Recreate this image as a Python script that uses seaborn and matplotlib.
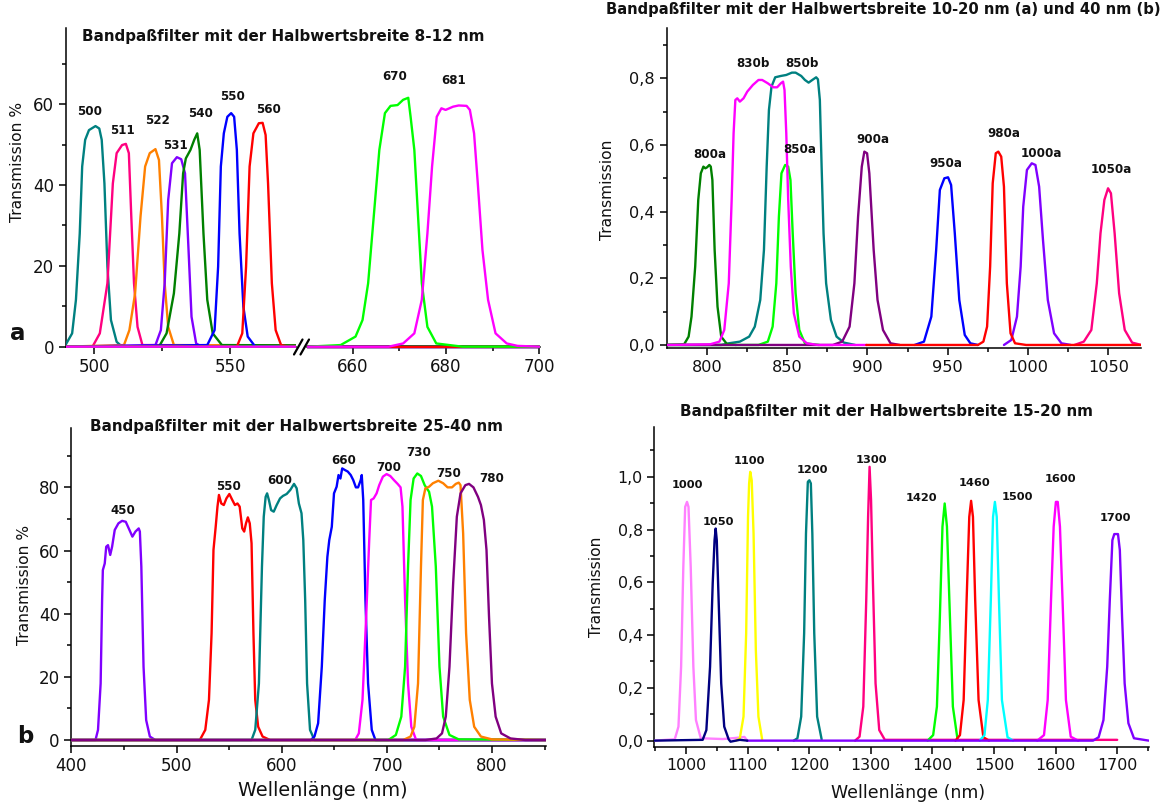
import matplotlib
matplotlib.use("Agg")
import matplotlib.pyplot as plt
from matplotlib.lines import Line2D
import seaborn as sns

sns.set_style("ticks")
plt.rcParams["font.family"] = ["DejaVu Sans"]

# ---------------------------------------------------------------- colours
TEAL = "#008080"
PINK = "#FF0080"
ORANGE = "#FF8000"
VIOLET = "#8000FF"
GREEN = "#008000"
BLUE = "#0000FF"
RED = "#FF0000"
LIME = "#00FF00"
MAGENTA = "#FF00FF"
PURPLE = "#800080"
LILAC = "#FF80FF"
NAVY = "#000080"
YELLOW = "#FFFF00"
CYAN = "#00FFFF"

# ---------------------------------------------------------------- panel a: FWHM 8-12 nm (Transmission %)
A500_WL = [489.0, 491.8, 493.2, 494.6, 495.5, 496.6, 498.0, 500.4, 501.8, 502.7, 503.7, 504.8, 506.1, 508.2, 510.2, 700.0]
A500_T = [0.0, 3.3, 11.6, 28.0, 44.6, 51.2, 53.6, 54.6, 54.0, 51.2, 40.4, 19.8, 6.6, 1.2, 0.0, 0.0]
A511_WL = [489.0, 499.3, 502.0, 504.8, 506.8, 508.2, 510.2, 511.6, 512.7, 513.6, 514.6, 515.9, 517.7, 700.0]
A511_T = [0.0, 0.0, 3.3, 15.7, 40.4, 47.9, 49.9, 50.2, 47.9, 32.2, 15.7, 4.9, 0.4, 0.0]
A522_WL = [489.0, 510.9, 512.9, 515.0, 517.0, 518.7, 520.4, 522.5, 523.8, 524.9, 525.9, 527.2, 529.3, 700.0]
A522_T = [0.0, 0.4, 4.1, 13.2, 32.2, 44.6, 47.9, 48.9, 46.2, 32.2, 15.7, 4.9, 0.4, 0.0]
A531_WL = [489.0, 522.5, 524.5, 525.9, 527.2, 528.6, 530.4, 532.0, 533.4, 534.7, 535.8, 537.5, 539.5, 700.0]
A531_T = [0.0, 0.4, 4.1, 15.7, 36.3, 45.4, 46.9, 46.4, 42.9, 23.9, 7.4, 0.8, 0.0, 0.0]
A540_WL = [489.0, 523.8, 526.6, 529.3, 531.3, 532.7, 533.7, 535.4, 536.8, 537.9, 538.8, 540.2, 541.6, 543.6, 547.0, 700.0]
A540_T = [0.0, 0.0, 3.3, 13.2, 28.0, 42.9, 46.6, 48.7, 51.2, 52.8, 48.7, 28.0, 11.6, 3.3, 0.4, 0.0]
A550_WL = [489.0, 541.6, 544.3, 545.6, 546.6, 547.7, 549.0, 550.4, 551.5, 552.5, 553.5, 554.9, 556.5, 559.3, 700.0]
A550_T = [0.0, 0.4, 4.1, 19.8, 44.6, 52.8, 56.9, 57.8, 56.9, 48.7, 28.0, 9.9, 2.5, 0.0, 0.0]
A560_WL = [489.0, 552.5, 554.5, 555.9, 557.2, 558.6, 560.6, 562.0, 563.1, 564.0, 565.4, 566.8, 568.8, 571.5, 700.0]
A560_T = [0.0, 0.0, 3.3, 19.8, 44.6, 52.8, 55.3, 55.4, 52.4, 40.4, 15.7, 4.1, 0.4, 0.0, 0.0]
A670_WL = [489.0, 650.3, 657.4, 660.6, 662.1, 663.3, 664.5, 665.7, 666.9, 668.1, 669.6, 670.8, 671.9, 672.4,
           673.2, 674.0, 674.8, 676.0, 677.9, 683.5, 700.0]
A670_T = [0.0, 0.0, 0.4, 2.5, 6.6, 15.7, 32.2, 48.7, 57.8, 59.6, 59.8, 61.1, 61.6, 56.9,
          48.7, 32.2, 15.7, 4.9, 0.8, 0.0, 0.0]
A681_WL = [489.0, 667.7, 670.8, 673.2, 674.8, 676.0, 677.0, 678.0, 679.0, 679.9, 681.5, 682.7, 684.4, 685.1,
           686.0, 686.8, 687.8, 689.0, 690.6, 693.0, 695.3, 700.0]
A681_T = [0.0, 0.0, 0.8, 3.3, 11.6, 28.0, 44.6, 56.9, 59.0, 58.6, 59.4, 59.7, 59.6, 58.6,
          52.8, 40.4, 23.9, 11.6, 3.3, 0.8, 0.2, 0.0]

A_NAMES = ["500", "511", "522", "531", "540", "550", "560", "670", "681"]
A_LABEL_X = [498.4, 510.5, 523.2, 529.7, 539.2, 550.8, 564.0, 668.9, 681.7]
A_LABEL_Y = [58.3, 53.5, 55.9, 49.7, 57.7, 61.9, 58.7, 66.8, 66.0]

# ---------------------------------------------------------------- panel b: FWHM 10-20 nm (a) / 40 nm (b)
B800A_WL = [775.0, 785.9, 788.7, 790.5, 792.8, 794.7, 796.3, 797.9, 799.1, 800.2, 801.6, 802.5, 803.5, 804.9,
            806.7, 809.0, 812.5, 818.3]
B800A_T = [0.0, 0.002, 0.025, 0.085, 0.235, 0.435, 0.515, 0.535, 0.53, 0.533, 0.54, 0.535, 0.495, 0.285,
           0.115, 0.025, 0.003, 0.0]
B830B_WL = [775.0, 802.1, 807.9, 810.9, 813.7, 815.5, 816.7, 817.8, 819.0, 820.6, 822.9, 825.2, 828.7, 832.2,
            834.5, 838.0, 841.4, 843.8, 846.1, 847.5, 848.4, 849.5, 850.7, 852.3, 854.2, 857.6, 862.3, 869.2, 899.5]
B830B_T = [0.0, 0.002, 0.01, 0.045, 0.185, 0.435, 0.635, 0.735, 0.74, 0.73, 0.74, 0.76, 0.78, 0.795,
           0.795, 0.785, 0.773, 0.773, 0.785, 0.79, 0.765, 0.635, 0.435, 0.235, 0.095, 0.025, 0.005, 0.0, 0.0]
B850B_WL = [775.0, 809.0, 813.7, 820.6, 826.4, 829.9, 833.3, 835.6, 837.3, 838.7, 840.3, 842.6, 846.1, 849.5,
            853.0, 855.3, 858.8, 861.1, 863.4, 865.7, 868.1, 869.2, 870.4, 871.5, 872.7, 874.3, 877.3, 880.8,
            885.4, 892.4]
B850B_T = [0.0, 0.0, 0.005, 0.01, 0.025, 0.055, 0.135, 0.285, 0.535, 0.705, 0.775, 0.803, 0.807, 0.81,
           0.817, 0.817, 0.807, 0.795, 0.787, 0.795, 0.803, 0.797, 0.735, 0.535, 0.335, 0.185, 0.075, 0.025,
           0.007, 0.0]
B850A_WL = [775.0, 832.2, 838.0, 841.0, 843.3, 844.9, 846.5, 848.8, 850.7, 852.1, 853.5, 855.3, 857.6, 861.1, 870.0]
B850A_T = [0.0, 0.0, 0.01, 0.055, 0.185, 0.385, 0.515, 0.54, 0.535, 0.495, 0.335, 0.155, 0.045, 0.005, 0.0]
B900A_WL = [775.0, 878.5, 884.3, 888.9, 891.9, 894.2, 896.5, 898.1, 899.8, 901.2, 903.9, 906.3, 909.7, 914.4, 920.1]
B900A_T = [0.0, 0.0, 0.01, 0.055, 0.185, 0.385, 0.535, 0.58, 0.575, 0.515, 0.285, 0.135, 0.045, 0.005, 0.0]
B950A_WL = [929.4, 935.2, 939.8, 942.8, 945.1, 947.9, 950.2, 952.1, 954.4, 957.2, 960.6, 964.1, 968.8]
B950A_T = [0.0, 0.01, 0.085, 0.285, 0.465, 0.5, 0.503, 0.48, 0.335, 0.135, 0.03, 0.005, 0.0]
B980A_WL = [899.3, 968.8, 972.2, 974.5, 976.4, 978.0, 979.9, 981.5, 983.3, 985.0, 986.8, 989.1, 991.9, 998.8, 1070.6]
B980A_T = [0.0, 0.0, 0.01, 0.055, 0.235, 0.485, 0.575, 0.58, 0.565, 0.475, 0.185, 0.035, 0.005, 0.0, 0.0]
B1000A_WL = [985.0, 989.6, 993.1, 995.4, 997.0, 999.3, 1002.3, 1004.6, 1006.9, 1009.3, 1012.3, 1016.2, 1020.8, 1026.6]
B1000A_T = [0.0, 0.015, 0.085, 0.235, 0.415, 0.525, 0.545, 0.54, 0.475, 0.315, 0.135, 0.035, 0.005, 0.0]
B1050A_WL = [1028.9, 1034.7, 1039.4, 1042.8, 1045.1, 1047.5, 1049.8, 1051.6, 1053.9, 1056.7, 1060.2, 1064.8, 1070.6]
B1050A_T = [0.0, 0.01, 0.045, 0.185, 0.335, 0.435, 0.47, 0.455, 0.335, 0.155, 0.045, 0.007, 0.0]

B_NAMES = ["800a", "830b", "850b", "850a", "900a", "950a", "980a", "1000a", "1050a"]
B_LABEL_X = [802.1, 828.7, 859.5, 858.1, 903.2, 949.1, 985.0, 1008.1, 1051.6]
B_LABEL_Y = [0.570, 0.843, 0.845, 0.587, 0.615, 0.545, 0.635, 0.575, 0.525]

# ---------------------------------------------------------------- panel c: FWHM 25-40 nm (Transmission %)
C450_WL = [400.0, 422.9, 425.3, 427.8, 429.2, 429.9, 431.7, 433.1, 434.8, 436.9, 438.7, 441.2, 444.7, 448.2,
           451.7, 455.2, 458.0, 460.9, 464.0, 465.1, 466.5, 468.6, 471.1, 474.6, 479.8, 851.0]
C450_T = [0.0, 0.0, 3.2, 17.9, 44.3, 53.8, 55.9, 61.2, 61.7, 58.6, 61.2, 66.5, 68.6, 69.4,
          69.1, 66.5, 64.4, 66.0, 67.0, 66.0, 54.9, 23.2, 6.3, 1.1, 0.0, 0.0]
C550_WL = [400.0, 522.1, 527.3, 530.8, 533.3, 535.1, 537.2, 538.9, 540.3, 542.5, 544.9, 547.4, 550.2, 553.0,
           555.5, 557.9, 560.0, 562.5, 564.3, 566.0, 567.8, 569.6, 571.3, 573.1, 574.8, 577.6, 581.8, 588.9, 851.0]
C550_T = [0.0, 0.0, 3.2, 12.7, 33.8, 60.2, 67.5, 73.9, 77.6, 74.9, 74.4, 76.5, 77.9, 76.0,
          74.4, 74.9, 73.9, 67.0, 66.0, 68.6, 70.5, 68.6, 62.3, 33.8, 12.7, 4.2, 1.1, 0.0, 0.0]
C600_WL = [400.0, 571.3, 574.8, 578.3, 581.2, 582.9, 584.7, 586.1, 587.8, 589.9, 592.4, 595.2, 598.4, 601.2,
           604.7, 608.2, 611.7, 614.2, 616.3, 618.8, 620.5, 622.3, 624.1, 626.9, 631.1, 851.0]
C600_T = [0.0, 0.0, 3.2, 17.9, 54.9, 70.7, 77.0, 78.1, 76.0, 72.8, 72.3, 74.4, 76.5, 77.3,
          77.9, 79.2, 81.1, 79.7, 74.9, 71.8, 63.3, 44.3, 17.9, 3.2, 0.0, 0.0]
C660_WL = [400.0, 627.6, 631.1, 634.6, 638.1, 640.9, 643.4, 645.2, 647.6, 649.7, 652.2, 654.0, 655.8, 657.5,
           660.0, 662.8, 665.6, 668.0, 670.5, 672.6, 675.1, 676.1, 677.5, 679.6, 682.1, 685.6, 689.1, 851.0]
C660_T = [0.0, 0.0, 1.1, 5.3, 23.2, 44.3, 58.0, 63.3, 67.5, 78.1, 80.2, 83.9, 82.8, 86.0,
          85.5, 85.0, 83.9, 82.3, 80.0, 80.0, 82.3, 83.9, 76.0, 44.3, 17.9, 3.2, 0.0, 0.0]
C700_WL = [400.0, 669.8, 673.3, 676.8, 680.3, 683.2, 684.9, 687.4, 690.2, 692.7, 696.2, 699.7, 703.2, 706.7,
           710.2, 713.0, 714.8, 717.3, 720.1, 723.2, 727.8, 851.0]
C700_T = [0.0, 0.0, 2.1, 12.7, 39.1, 63.3, 76.0, 76.5, 78.1, 80.7, 83.4, 84.2, 83.6, 82.3,
          81.1, 80.0, 73.9, 44.3, 17.9, 4.2, 0.0, 0.0]
C730_WL = [400.0, 701.4, 708.5, 713.7, 717.3, 720.1, 722.5, 725.4, 728.9, 732.4, 735.9, 740.1, 742.9, 746.5,
           750.0, 753.5, 759.5, 768.3, 851.0]
C730_T = [0.0, 0.0, 1.6, 7.4, 23.2, 54.9, 76.0, 82.8, 84.4, 83.6, 80.7, 78.6, 73.9, 54.9,
          23.2, 7.4, 1.6, 0.2, 0.0]
C750_WL = [400.0, 715.5, 722.5, 726.1, 729.6, 732.4, 734.2, 736.6, 740.1, 743.7, 748.9, 753.5, 757.7, 761.9,
           765.5, 768.3, 770.0, 772.5, 775.3, 778.8, 783.0, 789.4, 799.9, 851.0]
C750_T = [0.0, 0.0, 1.1, 4.2, 17.9, 54.9, 76.0, 79.7, 80.2, 81.3, 82.1, 81.3, 80.0, 80.0,
          81.1, 81.5, 80.7, 65.4, 33.8, 12.7, 4.2, 1.1, 0.2, 0.0]
C780_WL = [400.0, 736.6, 747.2, 752.4, 756.0, 759.5, 763.0, 766.5, 770.0, 774.6, 778.1, 782.3, 786.6, 789.4,
           792.2, 794.7, 797.1, 799.9, 803.4, 808.7, 817.5, 831.6, 851.0]
C780_T = [0.0, 0.0, 0.5, 2.1, 7.4, 23.2, 49.6, 70.7, 78.1, 80.7, 81.1, 80.0, 77.0, 74.4,
          69.7, 60.2, 39.1, 17.9, 7.4, 2.1, 0.5, 0.0, 0.0]

C_NAMES = ["450", "550", "600", "660", "700", "730", "750", "780"]
C_LABEL_X = [449.2, 549.5, 597.7, 658.5, 701.4, 730.3, 758.4, 800.0]
C_LABEL_Y = [72.8, 80.4, 82.3, 88.4, 86.2, 91.1, 84.4, 82.8]

# ---------------------------------------------------------------- panel d: FWHM 15-20 nm
D1000_WL = [948.7, 981.9, 987.9, 992.2, 995.8, 998.8, 1001.8, 1004.2, 1007.8, 1012.1, 1016.3, 1024.1,
            1060.0, 1080.0, 1095.0, 1099.6]
D1000_T = [0.0, 0.005, 0.053, 0.28, 0.659, 0.886, 0.905, 0.886, 0.659, 0.28, 0.078, 0.009,
           0.006, 0.010, 0.014, 0.0]
D1050_WL = [948.7, 1027.2, 1033.2, 1039.2, 1043.5, 1046.5, 1048.3, 1050.1, 1053.1, 1057.3, 1062.2, 1069.4,
            1072.4, 1087.5, 1099.6]
D1050_T = [0.0, 0.003, 0.04, 0.28, 0.596, 0.76, 0.804, 0.76, 0.533, 0.217, 0.053, 0.005,
           -0.004, 0.003, 0.0]
D1100_WL = [1081.5, 1087.5, 1093.5, 1097.8, 1100.8, 1102.6, 1104.4, 1106.8, 1109.8, 1113.5, 1117.7, 1123.7]
D1100_T = [0.0, 0.009, 0.091, 0.407, 0.848, 0.975, 1.019, 0.987, 0.785, 0.343, 0.091, 0.005]
D1200_WL = [1175.0, 1181.0, 1187.1, 1191.9, 1194.9, 1197.9, 1200.4, 1202.8, 1205.2, 1208.3, 1213.0, 1220.3]
D1200_T = [0.0, 0.009, 0.091, 0.407, 0.785, 0.981, 0.987, 0.975, 0.785, 0.407, 0.091, 0.005]
D1300_WL = [1274.6, 1281.8, 1287.9, 1292.7, 1295.7, 1298.1, 1300.5, 1303.6, 1307.8, 1313.8, 1322.9, 1700.0]
D1300_T = [0.0, 0.015, 0.129, 0.533, 0.848, 1.038, 0.912, 0.596, 0.217, 0.04, 0.003, 0.003]
D1420_WL = [1392.3, 1401.3, 1407.4, 1412.2, 1416.4, 1420.0, 1423.7, 1428.5, 1433.3, 1440.6]
D1420_T = [0.0, 0.021, 0.129, 0.47, 0.811, 0.899, 0.811, 0.47, 0.129, 0.009]
D1460_WL = [1437.5, 1444.8, 1450.8, 1455.6, 1459.9, 1462.9, 1465.9, 1469.5, 1475.0, 1482.8, 1491.9]
D1460_T = [0.0, 0.021, 0.154, 0.533, 0.848, 0.909, 0.848, 0.533, 0.154, 0.013, 0.0]
D1500_WL = [1476.8, 1484.6, 1490.0, 1494.9, 1498.5, 1501.5, 1504.5, 1508.1, 1512.9, 1522.0, 1531.1]
D1500_T = [0.0, 0.021, 0.154, 0.533, 0.848, 0.905, 0.848, 0.533, 0.154, 0.013, 0.0]
D1600_WL = [1570.3, 1581.2, 1587.2, 1592.6, 1596.9, 1600.5, 1603.5, 1607.1, 1611.3, 1616.8, 1624.6, 1636.7]
D1600_T = [0.0, 0.021, 0.154, 0.533, 0.811, 0.905, 0.905, 0.811, 0.533, 0.154, 0.015, 0.0]
D1700_WL = [1099.6, 1660.8, 1669.9, 1677.7, 1683.8, 1688.0, 1692.2, 1695.3, 1701.3, 1704.3, 1707.9, 1712.1,
            1718.2, 1727.2, 1751.3]
D1700_T = [0.0, 0.0, 0.013, 0.078, 0.28, 0.533, 0.76, 0.783, 0.783, 0.722, 0.47, 0.217,
           0.066, 0.009, 0.0]

D_NAMES = ["1000", "1050", "1100", "1200", "1300", "1420", "1460", "1500", "1600", "1700"]
D_LABEL_X = [1001.8, 1052.5, 1103.8, 1205.2, 1300.5, 1382.0, 1467.7, 1538.9, 1608.3, 1697.0]
D_LABEL_Y = [0.968, 0.830, 1.059, 1.025, 1.063, 0.920, 0.977, 0.924, 0.991, 0.845]

# ---------------------------------------------------------------- ticks
A_XT_LEFT, A_XT_LEFT_MINOR = [500, 550], [525]
A_XT_RIGHT, A_XT_RIGHT_MINOR = [660, 680, 700], [670, 690]
A_YT, A_YT_MINOR = [0, 20, 40, 60], [10, 30, 50, 70]
B_XT, B_XT_MINOR = [800, 850, 900, 950, 1000, 1050], [825, 875, 925, 975, 1025]
B_YT, B_YT_MINOR = [0.0, 0.2, 0.4, 0.6, 0.8], [0.1, 0.3, 0.5, 0.7, 0.9]
B_YT_LABELS = ["0,0", "0,2", "0,4", "0,6", "0,8"]
C_XT, C_XT_MINOR = [400, 500, 600, 700, 800], [450, 550, 650, 750, 850]
C_YT, C_YT_MINOR = [0, 20, 40, 60, 80], [10, 30, 50, 70, 90]
D_XT = [1000, 1100, 1200, 1300, 1400, 1500, 1600, 1700]
D_XT_MINOR = [950, 1050, 1150, 1250, 1350, 1450, 1550, 1650, 1750]
D_YT, D_YT_MINOR = [0.0, 0.2, 0.4, 0.6, 0.8, 1.0], [0.1, 0.3, 0.5, 0.7, 0.9, 1.1]
D_YT_LABELS = ["0,0", "0,2", "0,4", "0,6", "0,8", "1,0"]

# ---------------------------------------------------------------- series tables (draw order)
A_SERIES = [(A500_WL, A500_T, TEAL), (A511_WL, A511_T, PINK), (A522_WL, A522_T, ORANGE),
            (A531_WL, A531_T, VIOLET), (A540_WL, A540_T, GREEN), (A550_WL, A550_T, BLUE),
            (A560_WL, A560_T, RED), (A670_WL, A670_T, LIME), (A681_WL, A681_T, MAGENTA)]
B_SERIES = [(B850B_WL, B850B_T, TEAL), (B800A_WL, B800A_T, GREEN), (B850A_WL, B850A_T, LIME),
            (B900A_WL, B900A_T, PURPLE), (B950A_WL, B950A_T, BLUE), (B1000A_WL, B1000A_T, VIOLET),
            (B1050A_WL, B1050A_T, PINK), (B830B_WL, B830B_T, MAGENTA), (B980A_WL, B980A_T, RED)]
C_SERIES = [(C450_WL, C450_T, VIOLET), (C550_WL, C550_T, RED), (C600_WL, C600_T, TEAL),
            (C660_WL, C660_T, BLUE), (C700_WL, C700_T, MAGENTA), (C730_WL, C730_T, LIME),
            (C750_WL, C750_T, ORANGE), (C780_WL, C780_T, PURPLE)]
D_SERIES = [(D1000_WL, D1000_T, LILAC), (D1100_WL, D1100_T, YELLOW), (D1200_WL, D1200_T, TEAL),
            (D1300_WL, D1300_T, PINK), (D1420_WL, D1420_T, LIME), (D1460_WL, D1460_T, RED),
            (D1500_WL, D1500_T, CYAN), (D1600_WL, D1600_T, MAGENTA), (D1700_WL, D1700_T, VIOLET),
            (D1050_WL, D1050_T, NAVY)]

# ---------------------------------------------------------------- figure
W, H = 1163, 802
fig = plt.figure(figsize=(W / 100, H / 100), dpi=100)


def rect(left, top, right, bottom):
    return [left / W, 1 - bottom / H, (right - left) / W, (bottom - top) / H]


def fx(px):
    return px / W


def fy(py):
    return 1 - py / H


LW = 1.7
TITLE_FS = 10.9
PEAK_FS = 8.6


def draw_series(ax, series):
    for wl, t, col in series:
        sns.lineplot(x=wl, y=t, ax=ax, color=col, linewidth=LW, estimator=None,
                     sort=False, legend=False, zorder=3)


def style(ax, fs):
    ax.spines["top"].set_visible(False)
    ax.spines["right"].set_visible(False)
    for s in ("left", "bottom"):
        ax.spines[s].set_linewidth(1.1)
        ax.spines[s].set_color("black")
    ax.tick_params(which="major", direction="out", length=4.8, width=1.1,
                   labelsize=fs, color="black", labelcolor="#111111")
    ax.tick_params(which="minor", direction="out", length=3.0, width=1.1, color="black")
    ax.set_xlabel("")
    ax.set_ylabel("")


def peak_labels(ax, names, xs, ys, fs=PEAK_FS):
    for name, x, y in zip(names, xs, ys):
        ax.text(x, y, name, ha="center", va="center", fontsize=fs, fontweight="bold",
                color="#111111", zorder=5)


# ---- panel a (broken x axis)
axL = fig.add_axes(rect(65.9, 28.3, 296.0, 348.7))
axR = fig.add_axes(rect(307.0, 28.3, 540.1, 348.7), sharey=axL)
for ax in (axL, axR):
    draw_series(ax, A_SERIES)
    style(ax, 12)
    ax.set_ylim(-0.5, 78.8)
    ax.spines["bottom"].set_position(("data", 0))
axL.set_xlim(489.5, 574.3)
axR.set_xlim(650.2, 700.15)
axL.set_xticks(A_XT_LEFT)
axL.set_xticks(A_XT_LEFT_MINOR, minor=True)
axR.set_xticks(A_XT_RIGHT)
axR.set_xticks(A_XT_RIGHT_MINOR, minor=True)
axL.set_yticks(A_YT)
axL.set_yticks(A_YT_MINOR, minor=True)
axL.spines["left"].set_bounds(0, 78.8)
axR.spines["left"].set_visible(False)
axR.tick_params(axis="y", which="both", left=False, labelleft=False)
peak_labels(axL, A_NAMES[:7], A_LABEL_X[:7], A_LABEL_Y[:7])
peak_labels(axR, A_NAMES[7:], A_LABEL_X[7:], A_LABEL_Y[7:])
for x0 in (294.0, 300.5):
    fig.add_artist(Line2D([fx(x0), fx(x0 + 8.5)], [fy(354.5), fy(339.5)],
                          color="black", linewidth=1.6, transform=fig.transFigure))

# ---- panel b
axB = fig.add_axes(rect(666.6, 28.3, 1141.3, 348.3))
draw_series(axB, B_SERIES)
style(axB, 11.6)
axB.set_xlim(775.0, 1070.5)
axB.set_ylim(-0.01, 0.95)
axB.set_xticks(B_XT)
axB.set_xticks(B_XT_MINOR, minor=True)
axB.set_yticks(B_YT, B_YT_LABELS)
axB.set_yticks(B_YT_MINOR, minor=True)
peak_labels(axB, B_NAMES, B_LABEL_X, B_LABEL_Y)

# ---- panel c
axC = fig.add_axes(rect(71.4, 428.3, 545.7, 745.7))
draw_series(axC, C_SERIES)
style(axC, 12)
axC.set_xlim(400.0, 851.0)
axC.set_ylim(-1.8, 98.7)
axC.set_xticks(C_XT)
axC.set_xticks(C_XT_MINOR, minor=True)
axC.set_yticks(C_YT)
axC.set_yticks(C_YT_MINOR, minor=True)
peak_labels(axC, C_NAMES, C_LABEL_X, C_LABEL_Y)

# ---- panel d
axD = fig.add_axes(rect(654.3, 426.7, 1148.8, 746.7))
draw_series(axD, D_SERIES)
style(axD, 11.4)
axD.set_xlim(948.7, 1751.3)
axD.set_ylim(-0.023, 1.19)
axD.set_xticks(D_XT)
axD.set_xticks(D_XT_MINOR, minor=True)
axD.set_yticks(D_YT, D_YT_LABELS)
axD.set_yticks(D_YT_MINOR, minor=True)
peak_labels(axD, D_NAMES, D_LABEL_X, D_LABEL_Y, fs=8.2)

# ---- titles, axis titles and panel letters
fig.text(fx(283.6), fy(36.0), "Bandpaßfilter mit der Halbwertsbreite 8-12 nm",
         ha="center", va="center", fontsize=TITLE_FS, fontweight="bold", color="#111111")
fig.text(fx(1160.5), fy(9.5), "Bandpaßfilter mit der Halbwertsbreite 10-20 nm (a) und 40 nm (b)",
         ha="right", va="center", fontsize=10.6, fontweight="bold", color="#111111")
fig.text(fx(296.3), fy(426.7), "Bandpaßfilter mit der Halbwertsbreite 25-40 nm",
         ha="center", va="center", fontsize=TITLE_FS, fontweight="bold", color="#111111")
fig.text(fx(887.0), fy(411.7), "Bandpaßfilter mit der Halbwertsbreite 15-20 nm",
         ha="center", va="center", fontsize=TITLE_FS, fontweight="bold", color="#111111")

fig.text(fx(17.6), fy(161.7), "Transmission %", rotation=90, ha="center", va="center",
         fontsize=11.2, color="#111111")
fig.text(fx(608.0), fy(190.0), "Transmission", rotation=90, ha="center", va="center",
         fontsize=11.2, color="#111111")
fig.text(fx(25.0), fy(585.0), "Transmission %", rotation=90, ha="center", va="center",
         fontsize=11.2, color="#111111")
fig.text(fx(596.7), fy(586.7), "Transmission", rotation=90, ha="center", va="center",
         fontsize=11.2, color="#111111")

fig.text(fx(322.8), fy(790.0), "Wellenlänge (nm)", ha="center", va="center",
         fontsize=13.9, color="#111111")
fig.text(fx(908.0), fy(793.0), "Wellenlänge (nm)", ha="center", va="center",
         fontsize=12.5, color="#111111")

fig.text(fx(17.5), fy(334.0), "a", ha="center", va="center", fontsize=16.5,
         fontweight="bold", color="#111111")
fig.text(fx(25.0), fy(736.7), "b", ha="center", va="center", fontsize=16.5,
         fontweight="bold", color="#111111")

fig.savefig("out.png", dpi=100, facecolor="white")
